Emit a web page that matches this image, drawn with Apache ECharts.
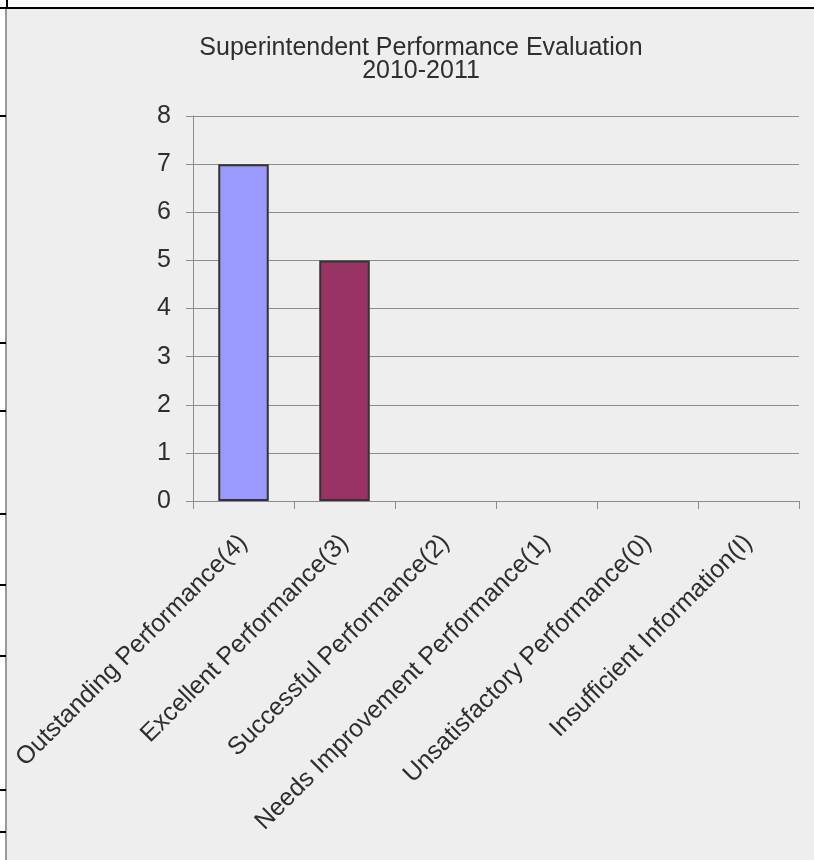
<!DOCTYPE html>
<html>
<head>
<meta charset="utf-8">
<style>
  html, body { margin: 0; padding: 0; background: #ffffff; }
  #chart { width: 814px; height: 860px; }
</style>
<script src="https://cdn.jsdelivr.net/npm/echarts@6/dist/echarts.min.js"></script>
</head>
<body>
<div id="chart"></div>
<script>
// Rating categories and how many evaluations fell in each
const categories = [
  'Outstanding Performance(4)',
  'Excellent Performance(3)',
  'Successful Performance(2)',
  'Needs Improvement Performance(1)',
  'Unsatisfactory Performance(0)',
  'Insufficient Information(I)'
];
const counts = [7, 5, 0, 0, 0, 0];
const barColors = ['#9999ff', '#993366', '#ffffcc', '#ccffff', '#660066', '#ff8080'];
const yTicks = [0, 1, 2, 3, 4, 5, 6, 7, 8];

const titleLines = ['Superintendent Performance Evaluation', '2010-2011'];

// Row markers of the sheet border along the left edge
const rowMarks = [116, 343, 411, 514, 585, 656, 790, 832];

const chart = echarts.init(document.getElementById('chart'), null, { renderer: 'canvas' });

const barData = counts.map((v, i) => ({
  value: v,
  itemStyle: {
    color: barColors[i],
    borderColor: '#333333',
    borderWidth: v > 0 ? 2 : 0
  }
}));

const graphics = [
  { type: 'rect', shape: { x: 0, y: 0, width: 814, height: 7 }, style: { fill: '#ffffff' }, silent: true },
  { type: 'rect', shape: { x: 0, y: 0, width: 6, height: 860 }, style: { fill: '#ffffff' }, silent: true },
  { type: 'rect', shape: { x: 5, y: 8, width: 2, height: 852 }, style: { fill: '#9a9a9a' }, silent: true },
  { type: 'rect', shape: { x: 0, y: 7, width: 814, height: 2 }, style: { fill: '#000000' }, silent: true },
  { type: 'rect', shape: { x: 6, y: 0, width: 2, height: 8 }, style: { fill: '#000000' }, silent: true }
];
rowMarks.forEach(y => {
  graphics.push({ type: 'rect', shape: { x: 0, y: y - 1, width: 6, height: 2 }, style: { fill: '#000000' }, silent: true });
});

chart.setOption({
  backgroundColor: '#eeeeee',
  animation: false,
  title: {
    text: titleLines.join('\n'),
    left: 416,
    top: 32,
    textAlign: 'center',
    textStyle: {
      fontFamily: 'Liberation Sans, Arial, sans-serif',
      fontSize: 25,
      fontWeight: 'normal',
      color: '#2e2e2e',
      lineHeight: 23
    }
  },
  graphic: graphics,
  grid: { left: 193, right: 15, top: 116, bottom: 359, containLabel: false },
  xAxis: {
    type: 'category',
    data: categories,
    boundaryGap: true,
    axisLine: { lineStyle: { color: '#8c8c8c', width: 1 } },
    axisTick: { show: true, length: 8, alignWithLabel: false, lineStyle: { color: '#8c8c8c' } },
    axisLabel: {
      rotate: 45,
      interval: 0,
      margin: 38,
      fontFamily: 'Liberation Sans, Arial, sans-serif',
      fontSize: 25,
      color: '#2e2e2e'
    }
  },
  yAxis: {
    type: 'value',
    min: yTicks[0],
    max: yTicks[yTicks.length - 1],
    interval: 1,
    axisLine: { show: true, lineStyle: { color: '#8c8c8c', width: 1 } },
    axisTick: { show: true, length: 7, lineStyle: { color: '#8c8c8c' } },
    splitLine: { show: true, lineStyle: { color: '#8c8c8c', width: 1 } },
    axisLabel: {
      margin: 22,
      fontFamily: 'Liberation Sans, Arial, sans-serif',
      fontSize: 25,
      color: '#2e2e2e'
    }
  },
  series: [{
    type: 'bar',
    data: barData,
    barWidth: '50%'
  }]
});
</script>
</body>
</html>
